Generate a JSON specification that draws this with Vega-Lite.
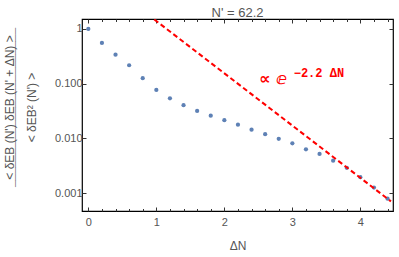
{
  "$schema": "https://vega.github.io/schema/vega-lite/v6.json",
  "width": 311,
  "height": 192,
  "autosize": {"type": "none"},
  "padding": {"left": 82, "top": 19, "right": 6, "bottom": 46},
  "background": "white",
  "config": {
    "view": {"stroke": "black", "strokeWidth": 1.2},
    "font": "Liberation Sans",
    "axis": {"grid": false, "domain": false, "labelColor": "#555", "labelFontSize": 11, "labelFont": "Liberation Sans", "tickColor": "#333", "titleColor": "#555", "titleFont": "Liberation Sans", "titleFontWeight": "normal"}
  },
  "title": {"text": "N' = 62.2", "fontSize": 13, "fontWeight": "normal", "color": "#555", "offset": -1, "font": "Liberation Sans"},
  "datasets": {
    "pts": [
      {"dN": 0.0, "corr": 1.0},
      {"dN": 0.2, "corr": 0.555},
      {"dN": 0.4, "corr": 0.339},
      {"dN": 0.6, "corr": 0.217},
      {"dN": 0.8, "corr": 0.126},
      {"dN": 1.0, "corr": 0.0767},
      {"dN": 1.2, "corr": 0.054},
      {"dN": 1.4, "corr": 0.0403},
      {"dN": 1.6, "corr": 0.0317},
      {"dN": 1.8, "corr": 0.026},
      {"dN": 2.0, "corr": 0.0215},
      {"dN": 2.2, "corr": 0.0178},
      {"dN": 2.4, "corr": 0.0144},
      {"dN": 2.6, "corr": 0.0119},
      {"dN": 2.8, "corr": 0.0098},
      {"dN": 3.0, "corr": 0.0081},
      {"dN": 3.2, "corr": 0.0063},
      {"dN": 3.4, "corr": 0.0052},
      {"dN": 3.6, "corr": 0.0039},
      {"dN": 3.8, "corr": 0.0029},
      {"dN": 4.0, "corr": 0.00195},
      {"dN": 4.2, "corr": 0.00126},
      {"dN": 4.4, "corr": 0.00079}
    ],
    "fit": [
      {"dN": 0.97, "corr": 1.49},
      {"dN": 4.45, "corr": 0.000705}
    ],
    "annMain": [{"dN": 2.51, "corr": 0.099, "label": "∝ ⅇ"}],
    "annSup": [{"dN": 3.02, "corr": 0.134, "label": "−2.2 ΔN"}]
  },
  "layer": [
    {
      "data": {"name": "pts"},
      "mark": {"type": "point", "filled": true, "size": 18, "color": "#5E81B5", "opacity": 1},
      "encoding": {
        "x": {
          "field": "dN", "type": "quantitative",
          "scale": {"domain": [-0.093, 4.48], "nice": false, "zero": false},
          "axis": {
            "orient": "bottom",
            "values": [0, 0.2, 0.4, 0.6, 0.8, 1, 1.2, 1.4, 1.6, 1.8, 2, 2.2, 2.4, 2.6, 2.8, 3, 3.2, 3.4, 3.6, 3.8, 4, 4.2, 4.4],
            "labelExpr": "abs(datum.value - round(datum.value)) < 0.001 ? format(datum.value, 'd') : ''",
            "tickSize": {"condition": {"test": "abs(datum.value - round(datum.value)) < 0.001", "value": -4}, "value": -2.5},
            "labelPadding": 9,
            "title": "ΔN",
            "titleFontSize": 12,
            "titlePadding": 13
          }
        },
        "y": {
          "field": "corr", "type": "quantitative",
          "scale": {"type": "log", "domain": [0.00047, 1.52], "nice": false, "zero": false},
          "axis": {
            "orient": "left",
            "values": [0.001, 0.01, 0.1, 1],
            "labelExpr": "datum.value > 0.5 ? '1' : format(datum.value, '.3f')",
            "tickSize": -4,
            "labelPadding": 4,
            "title": ["< δEB (N') δEB (N' + ΔN) >", "¯¯¯¯¯¯¯¯¯¯¯¯¯¯¯¯¯¯¯¯¯¯¯¯", "< δEB² (N') >"],
            "titleFontSize": 12,
            "titleLineHeight": 11,
            "titleAngle": -90,
            "titleBaseline": "top",
            "titleAlign": "center",
            "titleX": -78,
            "titleY": 88
          }
        }
      }
    },
    {
      "data": {"name": "fit"},
      "mark": {"type": "line", "color": "#FF0000", "strokeWidth": 2, "strokeDash": [5, 3], "clip": true},
      "encoding": {
        "x": {
          "field": "dN", "type": "quantitative",
          "axis": {
            "orient": "top",
            "values": [0, 0.2, 0.4, 0.6, 0.8, 1, 1.2, 1.4, 1.6, 1.8, 2, 2.2, 2.4, 2.6, 2.8, 3, 3.2, 3.4, 3.6, 3.8, 4, 4.2, 4.4],
            "labels": false,
            "title": null,
            "tickSize": {"condition": {"test": "abs(datum.value - round(datum.value)) < 0.001", "value": -4}, "value": -2.5}
          }
        },
        "y": {
          "field": "corr", "type": "quantitative",
          "axis": {"orient": "right", "values": [0.001, 0.01, 0.1, 1], "labels": false, "title": null, "tickSize": -4}
        }
      }
    },
    {
      "data": {"name": "annMain"},
      "mark": {"type": "text", "color": "#FF0000", "fontSize": 16, "fontWeight": "bold", "align": "left", "baseline": "alphabetic", "font": "DejaVu Sans"},
      "encoding": {
        "x": {"field": "dN", "type": "quantitative", "axis": null},
        "y": {"field": "corr", "type": "quantitative", "axis": null},
        "text": {"field": "label"}
      }
    },
    {
      "data": {"name": "annSup"},
      "mark": {"type": "text", "color": "#FF0000", "fontSize": 12, "fontWeight": "bold", "align": "left", "baseline": "alphabetic", "font": "Liberation Mono"},
      "encoding": {
        "x": {"field": "dN", "type": "quantitative", "axis": null},
        "y": {"field": "corr", "type": "quantitative", "axis": null},
        "text": {"field": "label"}
      }
    }
  ],
  "resolve": {"axis": {"x": "independent", "y": "independent"}}
}
